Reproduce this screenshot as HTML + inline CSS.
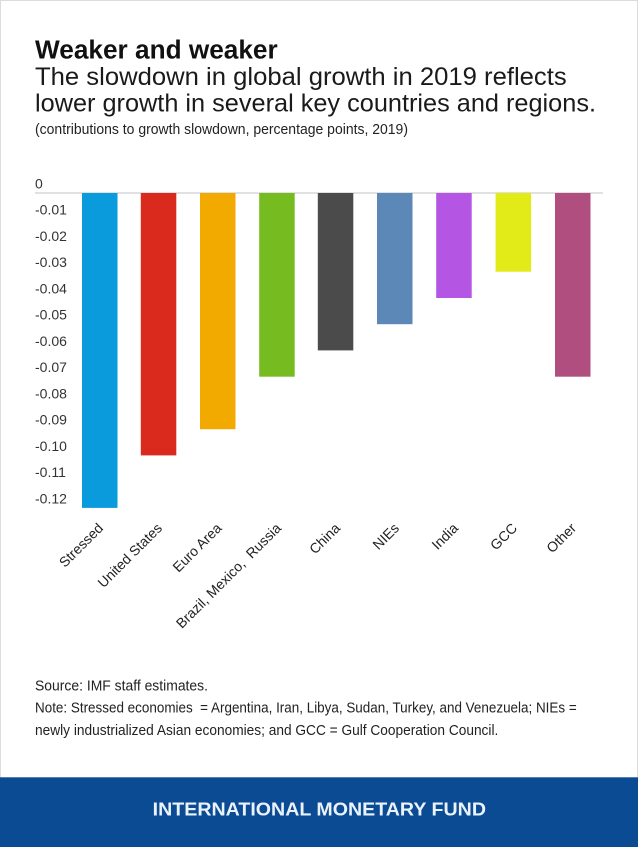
<!DOCTYPE html>
<html>
<head>
<meta charset="utf-8">
<style>
  html,body{margin:0;padding:0;background:#fff;}
  body{width:638px;height:847px;overflow:hidden;}
  svg{display:block;}
  text{font-family:"Liberation Sans", Arial, sans-serif;}
</style>
</head>
<body>
<svg width="638" height="847" viewBox="0 0 638 847" xmlns="http://www.w3.org/2000/svg">
  <rect x="0" y="0" width="638" height="847" fill="#ffffff"/>
  <!-- frame -->
  <line x1="0" y1="0.5" x2="638" y2="0.5" stroke="#dcdcdc" stroke-width="1"/>
  <line x1="0.5" y1="0" x2="0.5" y2="778" stroke="#dcdcdc" stroke-width="1"/>
  <line x1="637.5" y1="0" x2="637.5" y2="778" stroke="#dcdcdc" stroke-width="1"/>

  <!-- titles -->
  <text x="35" y="58.3" font-size="25.5" font-weight="bold" fill="#111" textLength="242.7" lengthAdjust="spacingAndGlyphs">Weaker and weaker</text>
  <text x="35" y="85" font-size="25" fill="#1a1a1a" textLength="531.7" lengthAdjust="spacingAndGlyphs">The slowdown in global growth in 2019 reflects</text>
  <text x="35" y="111.7" font-size="25" fill="#1a1a1a" textLength="561" lengthAdjust="spacingAndGlyphs">lower growth in several key countries and regions.</text>
  <text x="35" y="134" font-size="14.5" fill="#222" textLength="373" lengthAdjust="spacingAndGlyphs">(contributions to growth slowdown, percentage points, 2019)</text>

  <!-- y tick labels -->
  <g font-size="14" fill="#333">
    <text x="35" y="188.5">0</text>
    <text x="35" y="214.7">-0.01</text>
    <text x="35" y="240.9">-0.02</text>
    <text x="35" y="267.2">-0.03</text>
    <text x="35" y="293.4">-0.04</text>
    <text x="35" y="319.7">-0.05</text>
    <text x="35" y="345.9">-0.06</text>
    <text x="35" y="372.2">-0.07</text>
    <text x="35" y="398.4">-0.08</text>
    <text x="35" y="424.7">-0.09</text>
    <text x="35" y="450.9">-0.10</text>
    <text x="35" y="477.1">-0.11</text>
    <text x="35" y="503.4">-0.12</text>
  </g>

  <!-- zero line -->
  <line x1="35" y1="193" x2="603" y2="193" stroke="#cfcfcf" stroke-width="1.2"/>

  <!-- bars -->
  <rect x="82"    y="193" width="35.5" height="314.9" fill="#0a9bdc"/>
  <rect x="140.8" y="193" width="35.5" height="262.4" fill="#da2a1e"/>
  <rect x="200"   y="193" width="35.5" height="236.2" fill="#f2a900"/>
  <rect x="259.2" y="193" width="35.5" height="183.7" fill="#76bc21"/>
  <rect x="317.8" y="193" width="35.5" height="157.4" fill="#4b4b4b"/>
  <rect x="377"   y="193" width="35.5" height="131.2" fill="#5b88b6"/>
  <rect x="436.2" y="193" width="35.5" height="105"   fill="#b455e3"/>
  <rect x="495.6" y="193" width="35.5" height="78.7"  fill="#e2eb17"/>
  <rect x="555"   y="193" width="35.5" height="183.7" fill="#b04e80"/>

  <!-- x labels -->
  <g font-size="14" fill="#222" text-anchor="end">
    <text transform="translate(104,529) rotate(-45)">Stressed</text>
    <text transform="translate(163,529) rotate(-45)">United States</text>
    <text transform="translate(222.5,529) rotate(-45)">Euro Area</text>
    <text transform="translate(282,529) rotate(-45)">Brazil, Mexico,&#160; Russia</text>
    <text transform="translate(341,529) rotate(-45)">China</text>
    <text transform="translate(400,529) rotate(-45)">NIEs</text>
    <text transform="translate(459,529) rotate(-45)">India</text>
    <text transform="translate(518,529) rotate(-45)">GCC</text>
    <text transform="translate(577,529) rotate(-45)">Other</text>
  </g>

  <!-- footer notes -->
  <g font-size="14.5" fill="#222">
    <text x="35" y="690.7" textLength="173" lengthAdjust="spacingAndGlyphs">Source: IMF staff estimates.</text>
    <text x="35" y="712.7" textLength="541.7" lengthAdjust="spacingAndGlyphs">Note: Stressed economies&#160; = Argentina, Iran, Libya, Sudan, Turkey, and Venezuela; NIEs =</text>
    <text x="35" y="735" textLength="463.3" lengthAdjust="spacingAndGlyphs">newly industrialized Asian economies; and GCC = Gulf Cooperation Council.</text>
  </g>

  <!-- bottom band -->
  <rect x="0" y="777.3" width="638" height="70" fill="#0b4b94"/>
  <text x="152.7" y="815.7" font-size="18.5" font-weight="bold" fill="#eaf2fb" textLength="333.3" lengthAdjust="spacingAndGlyphs">INTERNATIONAL MONETARY FUND</text>
</svg>
</body>
</html>
